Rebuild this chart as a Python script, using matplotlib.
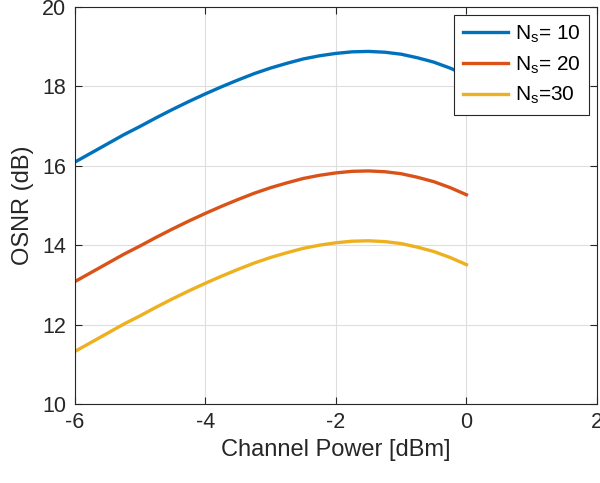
import numpy as np
import matplotlib
matplotlib.use('Agg')
import matplotlib.pyplot as plt

plt.rcParams['font.family'] = ['Liberation Sans', 'DejaVu Sans']
plt.rcParams['mathtext.default'] = 'regular'
plt.rcParams['axes.unicode_minus'] = False

# 信道功率 (dBm) 与三种跨段数下的 OSNR (dB)
power = [-6.0, -5.75, -5.5, -5.25, -5.0, -4.75, -4.5, -4.25, -4.0, -3.75, -3.5, -3.25, -3.0,
         -2.75, -2.5, -2.25, -2.0, -1.75, -1.5, -1.25, -1.0, -0.75, -0.5, -0.25, 0.0]
osnr_10 = [16.09, 16.32, 16.55, 16.78, 16.99, 17.21, 17.42, 17.62, 17.81, 17.99, 18.16, 18.32, 18.46,
           18.58, 18.69, 18.77, 18.83, 18.87, 18.88, 18.86, 18.81, 18.72, 18.61, 18.46, 18.28]
osnr_20 = [13.08, 13.31, 13.54, 13.77, 13.98, 14.20, 14.41, 14.61, 14.80, 14.98, 15.15, 15.31, 15.45,
           15.57, 15.68, 15.76, 15.82, 15.86, 15.87, 15.85, 15.80, 15.71, 15.60, 15.45, 15.27]
osnr_30 = [11.32, 11.55, 11.78, 12.01, 12.22, 12.44, 12.65, 12.85, 13.04, 13.22, 13.39, 13.55, 13.69,
           13.81, 13.92, 14.00, 14.06, 14.10, 14.11, 14.09, 14.04, 13.95, 13.84, 13.69, 13.51]
labels = ['N$_s$= 10', 'N$_s$= 20', 'N$_s$=30']
colors = ['#0072BD', '#D95319', '#EDB120']

fig = plt.figure(figsize=(6, 4.83), dpi=100)
ax = fig.add_axes([0.1245, 0.1636, 0.8705, 0.822])

for y, lab, c in zip([osnr_10, osnr_20, osnr_30], labels, colors):
    ax.plot(power, y, color=c, lw=2.4, label=lab)

ax.set_xlim(-6, 2)
ax.set_ylim(10, 20)
ax.set_xticks([-6, -4, -2, 0, 2])
ax.set_yticks([10, 12, 14, 16, 18, 20])
ax.grid(True, color='#dedede', lw=0.8)
ax.set_axisbelow(True)
ax.tick_params(direction='in', top=True, right=True, length=5, width=0.8,
               colors='#262626', labelsize=15.5, pad=6)
for s in ax.spines.values():
    s.set_color('#262626')
    s.set_linewidth(0.8)

ax.set_xlabel('Channel Power [dBm]', fontsize=17, color='#262626', labelpad=4)
ax.set_ylabel('OSNR (dB)', fontsize=17, color='#262626', labelpad=6)

leg = ax.legend(loc='upper right', fontsize=15, fancybox=False, framealpha=1,
                edgecolor='#262626', handlelength=2.2, handletextpad=0.3,
                borderaxespad=0.4, labelspacing=0.45, borderpad=0.4)
leg.get_frame().set_linewidth(0.8)

fig.savefig('out.png', dpi=100)
